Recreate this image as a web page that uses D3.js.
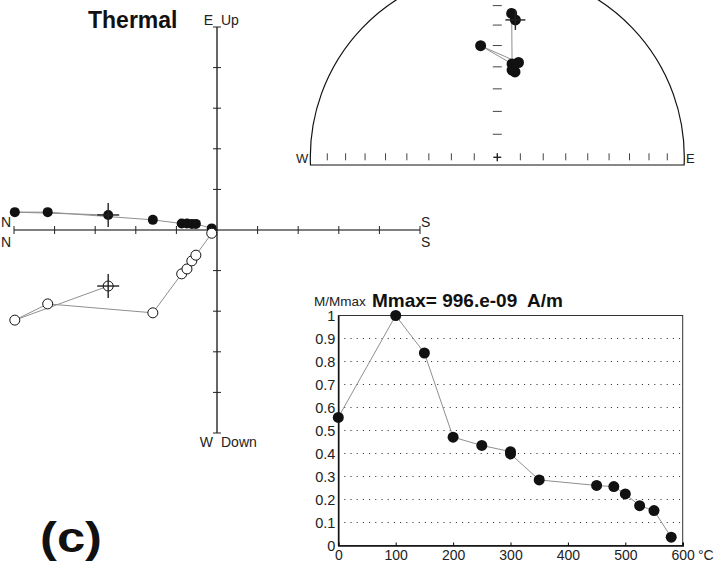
<!DOCTYPE html>
<html>
<head>
<meta charset="utf-8">
<script src="https://cdn.jsdelivr.net/npm/d3@7"></script>
<style>
  body { margin: 0; background: #fff; }
  svg { display: block; font-family: "Liberation Sans", Arial, sans-serif; }
</style>
</head>
<body>
<div id="chart"></div>
<script>
// Zijderveld diagram (tick units), first point = NRM (drawn with a cross)
const zijNorth = [2.68, 4.98, 4.17, 1.58, 0.87, 0.74, 0.62, 0.52, 0.13]
const zijEast = [0.37, 0.44, 0.44, 0.25, 0.16, 0.16, 0.15, 0.15, 0.04]
const zijUp = [-1.38, -2.22, -1.82, -2.04, -1.08, -0.96, -0.76, -0.62, -0.08]

// stereonet directions (degrees), first point = NRM
const stDec = [7.5, 5.7, 9.0, 351.5, 12.6, 9.6, 11.7]
const stInc = [26.8, 23.7, 48.1, 39.5, 46.9, 50.9, 51.5]
const stTicks = [80, 70, 60, 50, 40, 30, 20, 10]

// demagnetisation curve
const tempSteps = [0, 100, 150, 200, 250, 300, 300, 350, 450, 480, 500, 525, 550, 580]
const mRatio = [0.557, 1.0, 0.837, 0.471, 0.435, 0.408, 0.398, 0.285, 0.261, 0.256, 0.224, 0.173, 0.152, 0.036]
const tempTicks = [0, 100, 200, 300, 400, 500, 600]
const ratioTicks = [0, 0.1, 0.2, 0.3, 0.4, 0.5, 0.6, 0.7, 0.8, 0.9, 1]

const width = 721, height = 567
const lineGrey = '#8f8f8f'

const svg = d3.select('#chart').append('svg')
  .attr('width', width)
  .attr('height', height)
svg.append('rect').attr('width', width).attr('height', height).attr('fill', '#fff')

// ---------- Zijderveld ----------
const zx = d3.scaleLinear().domain([5, -5]).range([14, 420])
const zy = d3.scaleLinear().domain([5, -5]).range([27, 433])
const zij = svg.append('g')

zij.append('line')
  .attr('x1', zx(5)).attr('x2', zx(-5))
  .attr('y1', zy(0)).attr('y2', zy(0))
  .attr('stroke', '#000').attr('stroke-width', 1.2)
zij.append('line')
  .attr('x1', zx(0)).attr('x2', zx(0))
  .attr('y1', zy(5)).attr('y2', zy(-5))
  .attr('stroke', '#000').attr('stroke-width', 1.2)

const unitTicks = d3.range(-5, 6).filter(d => d !== 0)
zij.selectAll('.xt').data(unitTicks).enter().append('line')
  .attr('x1', d => zx(d)).attr('x2', d => zx(d))
  .attr('y1', zy(0) - 4).attr('y2', zy(0) + 4)
  .attr('stroke', '#222').attr('stroke-width', 1)
zij.selectAll('.yt').data(unitTicks).enter().append('line')
  .attr('x1', zx(0) - 4).attr('x2', zx(0) + 4)
  .attr('y1', d => zy(d)).attr('y2', d => zy(d))
  .attr('stroke', '#222').attr('stroke-width', 1)

const axisLabels = [
  {t: 'N', x: 1, y: 227, a: 'start'},
  {t: 'N', x: 1, y: 247, a: 'start'},
  {t: 'S', x: 421, y: 227, a: 'start'},
  {t: 'S', x: 421, y: 247, a: 'start'},
  {t: 'E', x: 213, y: 25, a: 'end'},
  {t: 'Up', x: 221, y: 25, a: 'start'},
  {t: 'W', x: 213, y: 447, a: 'end'},
  {t: 'Down', x: 221, y: 447, a: 'start'}
]
zij.selectAll('.al').data(axisLabels).enter().append('text')
  .attr('x', d => d.x).attr('y', d => d.y)
  .attr('text-anchor', d => d.a)
  .attr('font-size', 14).attr('fill', '#222')
  .text(d => d.t)

const horiz = zijNorth.map((n, i) => [zx(n), zy(zijEast[i])])
const vert = zijNorth.map((n, i) => [zx(n), zy(zijUp[i])])
const line = d3.line()
zij.append('path').attr('d', line(horiz)).attr('fill', 'none').attr('stroke', lineGrey).attr('stroke-width', 1)
zij.append('path').attr('d', line(vert)).attr('fill', 'none').attr('stroke', lineGrey).attr('stroke-width', 1)

zij.selectAll('.hp').data(horiz).enter().append('circle')
  .attr('cx', d => d[0]).attr('cy', d => d[1]).attr('r', 5)
  .attr('fill', '#111')
zij.selectAll('.vp').data(vert).enter().append('circle')
  .attr('cx', d => d[0]).attr('cy', d => d[1]).attr('r', 5)
  .attr('fill', '#fff').attr('stroke', '#111').attr('stroke-width', 1)

function cross(g, x, y, w, h) {
  g.append('line').attr('x1', x - w).attr('x2', x + w).attr('y1', y).attr('y2', y)
    .attr('stroke', '#222').attr('stroke-width', 1.4)
  g.append('line').attr('x1', x).attr('x2', x).attr('y1', y - h).attr('y2', y + h)
    .attr('stroke', '#222').attr('stroke-width', 1.4)
}
cross(zij, horiz[0][0], horiz[0][1], 11, 12)
cross(zij, vert[0][0], vert[0][1], 11, 12)

svg.append('text').attr('x', 88).attr('y', 28)
  .attr('font-size', 23).attr('font-weight', 'bold').attr('fill', '#111')
  .text('Thermal')

// ---------- stereonet (equal area) ----------
const cx = 497.3, cy = 157.3, R = 187
const rScale = d3.scaleLinear().domain([0, 1]).range([0, R])
const eqArea = inc => Math.SQRT2 * Math.sin((90 - inc) / 2 * Math.PI / 180)
const st = svg.append('g')

const baseY = 165
const halfW = Math.sqrt(R * R - (baseY - cy) * (baseY - cy))
st.append('path')
  .attr('d', `M${cx - halfW},${baseY} A${R},${R} 0 1 1 ${cx + halfW},${baseY} Z`)
  .attr('fill', 'none').attr('stroke', '#111').attr('stroke-width', 1.2)

st.selectAll('.wt').data(stTicks.flatMap(d => [-1, 1].map(s => s * rScale(eqArea(d))))).enter()
  .append('line')
  .attr('x1', d => cx + d).attr('x2', d => cx + d)
  .attr('y1', cy - 4).attr('y2', cy + 3)
  .attr('stroke', '#444').attr('stroke-width', 1)
st.selectAll('.nt').data(stTicks).enter().append('line')
  .attr('x1', cx - 4.5).attr('x2', cx + 4.5)
  .attr('y1', d => cy - rScale(eqArea(d))).attr('y2', d => cy - rScale(eqArea(d)))
  .attr('stroke', '#444').attr('stroke-width', 1)
cross(st, cx, cy, 4, 4)

st.append('text').attr('x', 296).attr('y', 163).attr('font-size', 13).attr('fill', '#222').text('W')
st.append('text').attr('x', 686).attr('y', 163).attr('font-size', 13).attr('fill', '#222').text('E')

const stPts = stDec.map((dec, i) => {
  const r = rScale(eqArea(stInc[i]))
  const a = dec * Math.PI / 180
  return [cx + r * Math.sin(a), cy - r * Math.cos(a)]
})
st.append('path').attr('d', line(stPts)).attr('fill', 'none').attr('stroke', lineGrey).attr('stroke-width', 1)
st.selectAll('.sp').data(stPts).enter().append('circle')
  .attr('cx', d => d[0]).attr('cy', d => d[1]).attr('r', 5.5)
  .attr('fill', '#111')
cross(st, stPts[0][0], stPts[0][1], 10, 10)

// ---------- intensity curve ----------
const ix = d3.scaleLinear().domain([0, 600]).range([338.3, 682.7])
const iy = d3.scaleLinear().domain([0, 1]).range([545.5, 315.5])
const ig = svg.append('g')

ig.selectAll('.grid').data(ratioTicks.filter(d => d > 0 && d < 1)).enter().append('line')
  .attr('x1', ix(0) + 6).attr('x2', ix(600))
  .attr('y1', d => iy(d)).attr('y2', d => iy(d))
  .attr('stroke', '#222').attr('stroke-width', 1).attr('stroke-dasharray', '1,5.2')

ig.append('rect')
  .attr('x', ix(0)).attr('y', iy(1))
  .attr('width', ix(600) - ix(0)).attr('height', iy(0) - iy(1))
  .attr('fill', 'none').attr('stroke', '#333').attr('stroke-width', 1)

const xAxis = ig.append('g').attr('transform', `translate(0,${iy(0)})`)
  .call(d3.axisBottom(ix).tickValues(tempTicks).tickSize(-3).tickPadding(5).tickFormat(d3.format('d')))
xAxis.select('.domain').attr('stroke', '#111').attr('stroke-width', 1.5)
xAxis.selectAll('text').attr('font-size', 14).attr('fill', '#222').attr('font-family', null)

const yAxis = ig.append('g').attr('transform', `translate(${ix(0)},0)`)
  .call(d3.axisLeft(iy).tickValues(ratioTicks).tickSize(0).tickPadding(3).tickFormat(d3.format('~g')))
yAxis.select('.domain').attr('stroke', '#111').attr('stroke-width', 1.5)
yAxis.selectAll('text').attr('font-size', 14.5).attr('fill', '#222').attr('font-family', null)

ig.append('text').attr('x', 698).attr('y', 560).attr('font-size', 14).attr('fill', '#222').text('°C')

const curve = tempSteps.map((t, i) => [ix(t), iy(mRatio[i])])
ig.append('path').attr('d', line(curve)).attr('fill', 'none').attr('stroke', lineGrey).attr('stroke-width', 1)
ig.selectAll('.ip').data(curve).enter().append('circle')
  .attr('cx', d => d[0]).attr('cy', d => d[1]).attr('r', 5.5)
  .attr('fill', '#111')

ig.append('text').attr('x', 314).attr('y', 306).attr('font-size', 13.5).attr('fill', '#222').text('M/Mmax')
ig.append('text').attr('x', 372).attr('y', 306.5)
  .attr('font-size', 19).attr('font-weight', 'bold').attr('fill', '#111')
  .style('white-space', 'pre')
  .text('Mmax= 996.e-09  A/m')

svg.append('text').attr('x', 40).attr('y', 552)
  .attr('font-size', 42).attr('font-weight', 'bold').attr('fill', '#111')
  .attr('textLength', 62).attr('lengthAdjust', 'spacingAndGlyphs')
  .text('(c)')
</script>
</body>
</html>
